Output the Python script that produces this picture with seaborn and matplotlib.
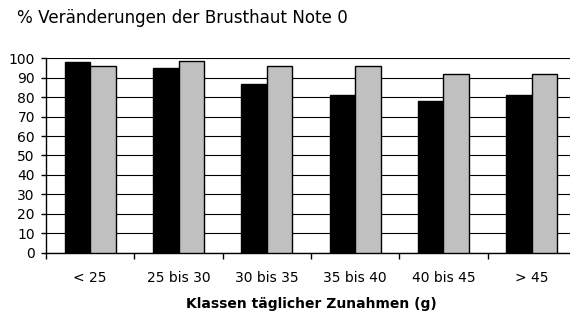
import matplotlib
matplotlib.use("Agg")
import matplotlib.pyplot as plt
import seaborn as sns
import pandas as pd
from matplotlib.ticker import FixedLocator

# Weight-gain classes and share of breast skin scored "Note 0" (%)
classes = ["< 25", "25 bis 30", "30 bis 35", "35 bis 40", "40 bis 45", "> 45"]
series_names = ["Reihe 1", "Reihe 2"]
values_1 = [98, 95, 87, 81, 78, 81]
values_2 = [96, 98.5, 96, 96, 92, 92]
y_ticks = list(range(0, 101, 10))

df = pd.DataFrame({
    "Klasse": classes * 2,
    "Serie": [series_names[0]] * len(classes) + [series_names[1]] * len(classes),
    "Wert": values_1 + values_2,
})

sns.set_theme(style="white")
plt.rcParams["font.family"] = ["DejaVu Sans"]

fig = plt.figure(figsize=(5.7, 3.2), dpi=100)
W, H = 570, 320
ax = fig.add_axes([46 / W, 67.3 / H, 530 / W, 194.4 / H])

sns.barplot(
    data=df, x="Klasse", y="Wert", hue="Serie", order=classes,
    hue_order=series_names, palette=["#000000", "#C0C0C0"],
    width=0.58, gap=0, edgecolor="black", linewidth=1.0,
    legend=False, ax=ax, zorder=3,
)

ax.set_xlim(-0.5, len(classes) - 0.5)
ax.set_ylim(0, 100)
ax.set_yticks(y_ticks)
ax.yaxis.grid(True, color="black", linewidth=0.8, zorder=0)
ax.xaxis.grid(False)
ax.set_axisbelow(True)

for side in ("top", "right"):
    ax.spines[side].set_visible(False)
for side in ("left", "bottom"):
    ax.spines[side].set_color("black")
    ax.spines[side].set_linewidth(1.0)

# category separators as ticks, labels centred under the groups
ax.xaxis.set_minor_locator(FixedLocator([i - 0.5 for i in range(len(classes) + 1)]))
ax.tick_params(axis="x", which="major", length=0, pad=13, labelsize=10, colors="black")
ax.tick_params(axis="x", which="minor", length=4.5, width=1.0, color="black", direction="out", bottom=True)
ax.tick_params(axis="y", which="major", length=3.5, width=1.0, color="black", direction="out",
               pad=4.5, labelsize=10, left=True, labelcolor="black")

ax.set_ylabel("")
ax.set_xlabel("Klassen täglicher Zunahmen (g)", fontsize=10, fontweight="bold",
              color="black", labelpad=9)

fig.text(17 / W, 1 - 23.3 / H, "% Veränderungen der Brusthaut Note 0",
         fontsize=12.1, color="black", ha="left", va="baseline")

fig.savefig("out.png", dpi=100, facecolor="white")
